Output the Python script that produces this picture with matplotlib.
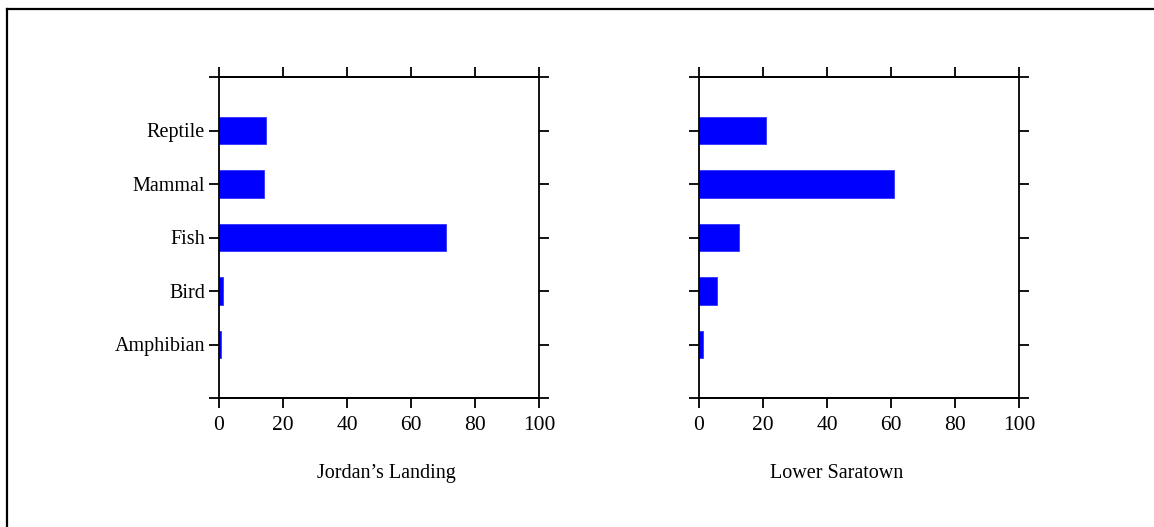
import matplotlib
matplotlib.use("Agg")
import matplotlib.pyplot as plt
from matplotlib.lines import Line2D

categories = ["Amphibian", "Bird", "Fish", "Mammal", "Reptile"]
jordans_landing = [0.5, 1.3, 70.9, 14.2, 14.7]
lower_saratown = [1.4, 5.5, 12.5, 60.9, 20.9]
panel_titles = ["Jordan\u2019s Landing", "Lower Saratown"]
xticks = [0, 20, 40, 60, 80, 100]

plt.rcParams['font.family'] = ['Liberation Serif', 'DejaVu Serif']
FS = 14.5
FS_X = 15.5

fig = plt.figure(figsize=(11.54, 5.27), dpi=100)
W, H = 1154, 527

def fx(px):
    return px / W

def fy(py):
    return 1 - py / H

panels = [(219, jordans_landing, 0.522), (699, lower_saratown, 0.431)]
ypos = list(range(1, len(categories) + 1))

LW = 1.3
for i, (x0, vals, lblx) in enumerate(panels):
    ax = fig.add_axes([fx(x0), fy(398), 320 / W, (398 - 77) / H])
    ax.barh(ypos, vals, height=0.52, color='#0000ff', edgecolor='#3333ff', linewidth=0.6)
    ax.set_xlim(0, 100)
    ax.set_ylim(0, 6)
    ax.set_xticks(xticks)
    ax.set_xticklabels([str(t) for t in xticks], fontsize=FS_X)
    ax.set_yticks(ypos)
    if i == 0:
        ax.set_yticklabels(categories, fontsize=FS)
    else:
        ax.set_yticklabels([])
    ax.tick_params(axis='both', direction='out', length=7.2, width=LW,
                   top=True, right=True)
    ax.tick_params(axis='x', pad=6)
    ax.tick_params(axis='y', pad=3)
    for s in ax.spines.values():
        s.set_linewidth(LW)
    ext = 10 / 320
    for yy in (0, 1):
        ax.plot([-ext, 1 + ext], [yy, yy], transform=ax.transAxes,
                color='black', lw=LW, clip_on=False, solid_capstyle='butt')
    ax.set_xlabel(panel_titles[i], fontsize=FS)
    ax.xaxis.set_label_coords(lblx, -0.205)

# figure border (top and left visible)
fig.add_artist(Line2D([fx(7), 1.0], [fy(8.5), fy(8.5)], color='black', lw=1.6))
fig.add_artist(Line2D([fx(7), fx(7)], [0.0, fy(8.5)], color='black', lw=1.6))

fig.savefig("out.png", dpi=100)
